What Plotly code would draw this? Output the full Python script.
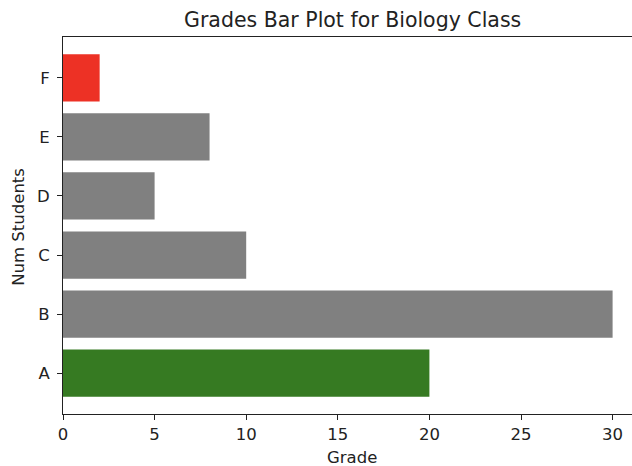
import plotly.graph_objects as go

grades = ["A", "B", "C", "D", "E", "F"]
num_students = [20, 30, 10, 5, 8, 2]
bar_colors = ["#367a22", "#808080", "#808080", "#808080", "#808080", "#ed3125"]
x_ticks = [0, 5, 10, 15, 20, 25, 30]

W, H = 632, 466
L, R, T, B = 63, 0, 37, 52

fig = go.Figure(go.Bar(
    x=num_students, y=grades, orientation="h",
    marker=dict(color=bar_colors, line=dict(width=0)),
    width=0.8,
))

font = dict(family="DejaVu Sans", size=16.5, color="#222222")

fig.update_layout(
    width=W, height=H,
    margin=dict(l=L, r=R, t=T, b=B, pad=0),
    paper_bgcolor="white", plot_bgcolor="white",
    font=font,
    showlegend=False,
    bargap=0.2,
    xaxis=dict(
        range=[0, (W - L) / 18.32], tickvals=x_ticks, ticks="outside", ticklen=5,
        tickwidth=1, tickcolor="#222", showline=True, linecolor="#222", linewidth=1,
        mirror=True, showgrid=False, zeroline=False, tickfont=font,
    ),
    yaxis=dict(
        range=[-0.69, 5.69], categoryorder="array", categoryarray=grades,
        ticks="outside", ticklen=5, tickwidth=1, tickcolor="#222",
        showline=True, linecolor="#222", linewidth=1, showgrid=False,
        zeroline=False, tickfont=font, ticklabelstandoff=4,
    ),
    annotations=[
        dict(text="Grades Bar Plot for Biology Class", xref="paper", yref="paper",
             x=(352 - L) / (W - L), y=1, yshift=3, xanchor="center", yanchor="bottom",
             showarrow=False, font=dict(family="DejaVu Sans", size=20.5, color="#222")),
        dict(text="Grade", xref="paper", yref="paper",
             x=(352 - L) / (W - L), y=0, yshift=-32, xanchor="center", yanchor="top",
             showarrow=False, font=font),
        dict(text="Num Students", xref="paper", yref="paper",
             x=0, xshift=-56, y=(413.5 - 227) / (413.5 - 37), xanchor="left", yanchor="middle",
             textangle=-90, showarrow=False, font=font),
    ],
)

fig.write_html("out.html", config={"displayModeBar": False},
               post_script="document.body.style.margin='0';document.body.style.overflow='hidden';")
